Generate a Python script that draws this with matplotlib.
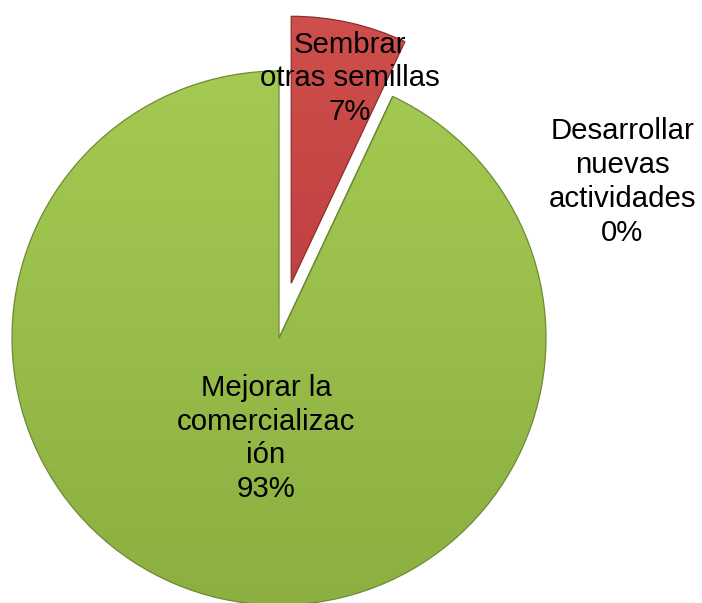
import matplotlib.pyplot as plt
import numpy as np
from matplotlib.colors import LinearSegmentedColormap

plt.rcParams['font.family'] = ['Liberation Sans', 'DejaVu Sans']

# slices, clockwise from 12 o'clock
categories = ["Sembrar\notras semillas", "Desarrollar\nnuevas\nactividades", "Mejorar la\ncomercializac\nión"]
values = [7, 0, 93]
explode = [0.21, 0.0, 0.0]
# top / bottom shades of each slice
shades = [('#D0504D', '#AE2D30'), ('#A6CC52', '#8DB040'), ('#A8CE55', '#88AB3E')]
edges = ['#8a2f2f', '#6f8a35', '#6f8a35']

# label centres in pie units (radius = 1)
label_pos = [(0.266, 0.972), (1.285, 0.584), (-0.049, -0.376)]

fig = plt.figure(figsize=(7.02, 6.03), dpi=100)
ax = fig.add_axes([0, 0, 1, 1])

wedges, _ = ax.pie(values, explode=explode, startangle=90,
                   counterclock=False, radius=1.0,
                   wedgeprops=dict(linewidth=0.9))

grad = np.linspace(1, 0, 256).reshape(-1, 1)
for w, (c_top, c_bot), ec in zip(wedges, shades, edges):
    w.set_facecolor('none')
    w.set_edgecolor(ec)
    w.set_zorder(3)
    cmap = LinearSegmentedColormap.from_list('s', [c_bot, c_top])
    im = ax.imshow(grad, cmap=cmap, extent=(-1.3, 1.6, -1.3, 1.3),
                   aspect='auto', zorder=2, interpolation='bilinear')
    im.set_clip_path(w)

total = sum(values)
for cat, v, (x, y) in zip(categories, values, label_pos):
    ax.text(x, y, f"{cat}\n{round(100 * v / total)}%", ha='center', va='center',
            fontsize=21.2, linespacing=1.26, color='black', zorder=5)

ax.set_xlim(-279 / 267, (702 - 279) / 267)
ax.set_ylim(-(603 - 338) / 267, 338 / 267)
ax.set_aspect('equal')
ax.axis('off')

fig.savefig('out.png', dpi=100)
